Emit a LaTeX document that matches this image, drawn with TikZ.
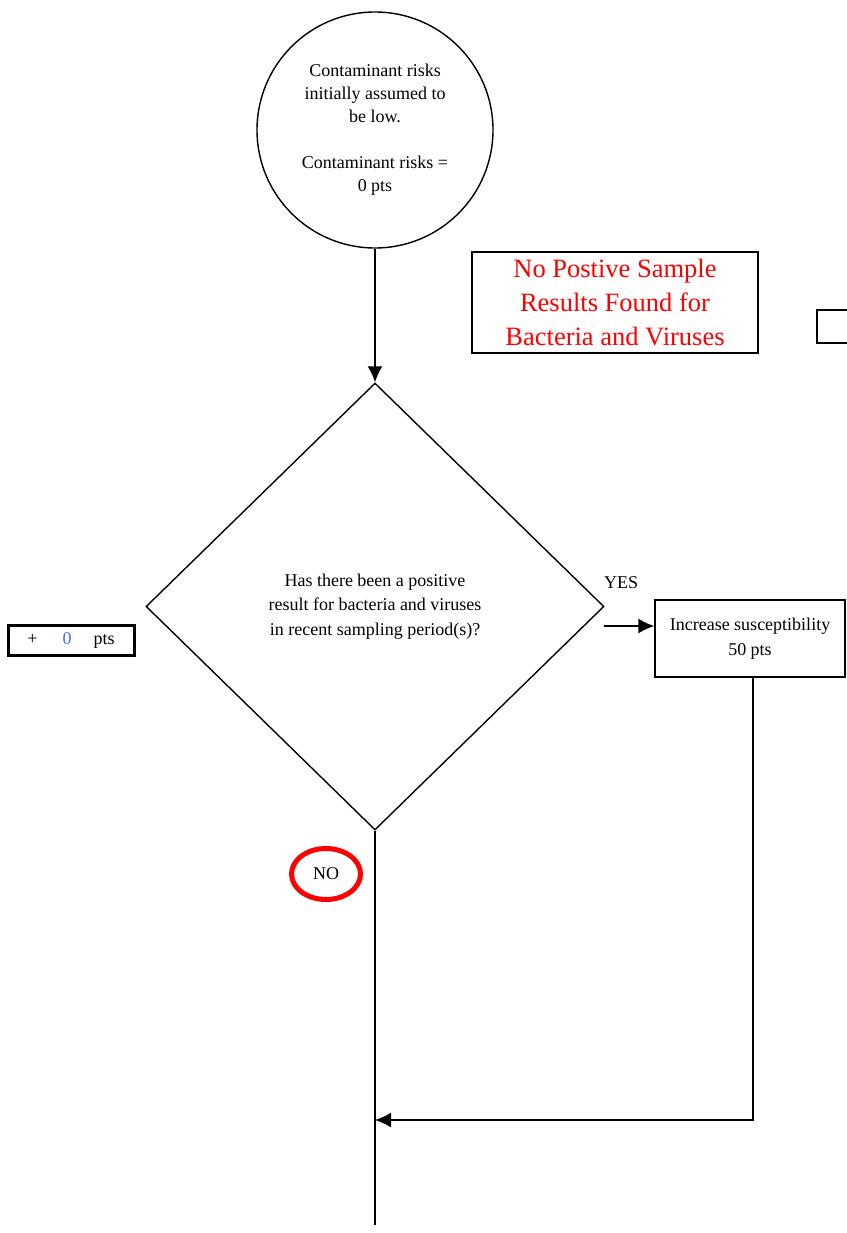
\documentclass[tikz,border=0pt]{standalone}
\usepackage{fontspec}
\setmainfont{Liberation Serif}
\usetikzlibrary{shapes.geometric, arrows.meta, positioning, calc}
\definecolor{ptblue}{RGB}{70,110,250}

\begin{document}
\begin{tikzpicture}[x=1pt, y=-1pt, >={Latex[length=16pt, width=15pt]}, line width=1.4pt, font=\fontsize{18}{23}\selectfont]
    \useasboundingbox (0,0) rectangle (846,1233);

    \path (375, 130) node[circle, draw, minimum size=236pt, inner sep=0pt, align=center] (start) {Contaminant risks\\ initially assumed to\\ be low.\\[23pt] Contaminant risks =\\ 0 pts};
    \path (615, 302.5) node[draw, text=red, minimum width=286pt, minimum height=101pt, inner sep=0pt, align=center, font=\fontsize{26.5}{34}\selectfont] (note) {No Postive Sample\\ Results Found for\\ Bacteria and Viruses};
    \path (847, 326.5) node[draw, minimum width=60pt, minimum height=33pt] (side) {};

    \path (375, 606.5) node[diamond, draw, minimum width=458pt, minimum height=447pt, inner sep=0pt, align=center, font=\fontsize{18}{24.5}\selectfont] (dia) {Has there been a positive\\ result for bacteria and viruses\\ in recent sampling period(s)?};
    \path (71, 640) node[draw, line width=3pt, minimum width=126pt, minimum height=30pt, inner sep=0pt] (pts) {+\hspace{25pt}{\color{ptblue}0}\hspace{22pt}pts\hspace{26pt}};

    \path (621, 583) node (yes) {YES};
    \path (750, 638.5) node[draw, minimum width=190pt, minimum height=77pt, inner sep=0pt, align=center, font=\fontsize{18}{24.5}\selectfont] (inc) {Increase susceptibility\\ 50 pts};
    \path (326, 874) node[ellipse, draw=red, line width=5pt, minimum width=69pt, minimum height=51pt, inner sep=0pt] (no) {NO};

    \coordinate (yesout) at (604, 626);
    \coordinate (join) at (375, 1120);
    \coordinate (exit) at (375, 1225);

    \draw[->] (start) -- (dia);
    \draw[->] (yesout) -- (yesout -| inc.west);
    \draw (dia.south) -- (exit);
    \draw[->] ($(inc.south)+(3,0)$) |- (join);
\end{tikzpicture}
\end{document}
